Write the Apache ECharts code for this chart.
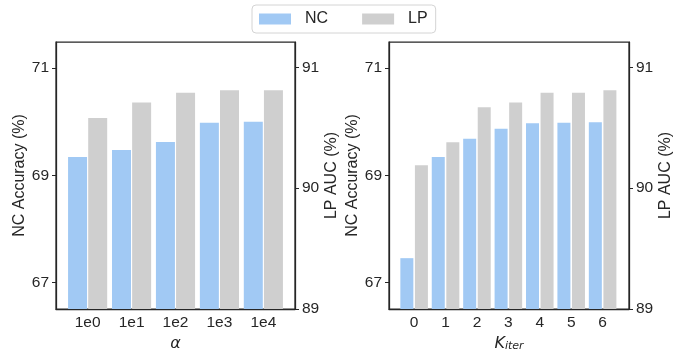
<!DOCTYPE html>
<html><head><meta charset="utf-8">
<script src="https://cdn.jsdelivr.net/npm/echarts@6/dist/echarts.min.js"></script>
<style>html,body{margin:0;padding:0;background:#fff}#c{width:692px;height:349px}</style>
</head><body><div id="c"></div>
<script>
// ---- data ----
const alphaLabels = ['1e0', '1e1', '1e2', '1e3', '1e4'];
const alphaNC = [69.34, 69.47, 69.62, 69.98, 70.00];
const alphaLP = [90.58, 90.71, 90.79, 90.81, 90.81];
const kLabels = ['0', '1', '2', '3', '4', '5', '6'];
const kNC = [67.45, 69.34, 69.68, 69.87, 69.97, 69.98, 69.99];
const kLP = [90.19, 90.38, 90.67, 90.71, 90.79, 90.79, 90.81];
const ncTicks = [67, 69, 71];
const lpTicks = [89, 90, 91];

// ---- style ----
const NC_COLOR = '#A1C9F4';
const LP_COLOR = '#CFCFCF';
const INK = '#262626';
const FONT = 'Liberation Sans, Arial, sans-serif';
const MATH = 'DejaVu Sans, sans-serif';

function yAxis(grid, side, min, max, ticks, name, gap) {
  return {
    type: 'value', gridIndex: grid, position: side, min: min, max: max,
    axisLine: { show: true, onZero: false, lineStyle: { color: INK, width: 1.25 } },
    axisTick: { show: true, length: 4, customValues: ticks, lineStyle: { color: INK, width: 1 } },
    axisLabel: { customValues: ticks, margin: 7, fontSize: 15.5, color: INK, fontFamily: FONT },
    splitLine: { show: false },
    name: name, nameLocation: 'middle', nameGap: gap,
    nameTextStyle: { fontSize: 16, color: INK, fontFamily: FONT }
  };
}
function xAxis(grid, min, max, labels, name, nameStyle) {
  return {
    type: 'value', gridIndex: grid, min: min, max: max, z: 5,
    axisLine: { show: true, onZero: false, lineStyle: { color: INK, width: 1.25 } },
    axisTick: { show: false },
    axisLabel: { customValues: labels.map((_, i) => i), formatter: v => labels[Math.round(v)],
      margin: 6, fontSize: 15.5, color: INK, fontFamily: FONT },
    splitLine: { show: false },
    name: name, nameLocation: 'middle', nameGap: 21, nameTextStyle: nameStyle
  };
}
function bars(name, xi, yi, vals, w, color, gap) {
  return { type: 'bar', name: name, xAxisIndex: xi, yAxisIndex: yi,
    data: vals.map((v, i) => [i, v]), barWidth: w, barGap: gap,
    itemStyle: { color: color }, emphasis: { disabled: true } };
}

const gridStyle = { top: 42, height: 267, show: true, borderColor: INK, borderWidth: 1.25,
  backgroundColor: 'transparent', outerBoundsMode: 'none', containLabel: false };

const option = {
  backgroundColor: '#fff',
  animation: false,
  legend: {
    data: ['NC', 'LP'], left: 252, top: 5, icon: 'rect',
    itemWidth: 32, itemHeight: 11, itemGap: 34, padding: [6, 8, 6, 7],
    borderColor: '#d4d4d4', borderWidth: 1, borderRadius: 4,
    textStyle: { fontSize: 16, color: INK, fontFamily: FONT, padding: [0, 0, 0, 9] }
  },
  grid: [
    Object.assign({ left: 56, width: 239 }, gridStyle),
    Object.assign({ left: 389, width: 240 }, gridStyle)
  ],
  xAxis: [
    xAxis(0, -0.72, 4.72, alphaLabels, 'α', { fontSize: 16, fontStyle: 'italic', color: INK, fontFamily: MATH }),
    xAxis(1, -0.8, 6.84, kLabels, '{k|K}{s|iter}', {
      color: INK, fontFamily: MATH,
      rich: {
        k: { fontSize: 16, fontStyle: 'italic', fontFamily: MATH, color: INK, lineHeight: 20, verticalAlign: 'bottom' },
        s: { fontSize: 11, fontStyle: 'italic', fontFamily: MATH, color: INK, lineHeight: 10, verticalAlign: 'bottom' }
      }
    })
  ],
  yAxis: [
    yAxis(0, 'left', 66.5, 71.49, ncTicks, 'NC Accuracy (%)', 26),
    yAxis(0, 'right', 89, 91.21, lpTicks, 'LP AUC (%)', 26),
    yAxis(1, 'left', 66.5, 71.49, ncTicks, 'NC Accuracy (%)', 26),
    yAxis(1, 'right', 89, 91.21, lpTicks, 'LP AUC (%)', 26)
  ],
  series: [
    bars('NC', 0, 0, alphaNC, 19, NC_COLOR, '6%'),
    bars('LP', 0, 1, alphaLP, 19, LP_COLOR, '6%'),
    bars('NC', 1, 2, kNC, 13, NC_COLOR, '12%'),
    bars('LP', 1, 3, kLP, 13, LP_COLOR, '12%')
  ]
};
echarts.init(document.getElementById('c'), null, { renderer: 'canvas' }).setOption(option);
</script></body></html>
